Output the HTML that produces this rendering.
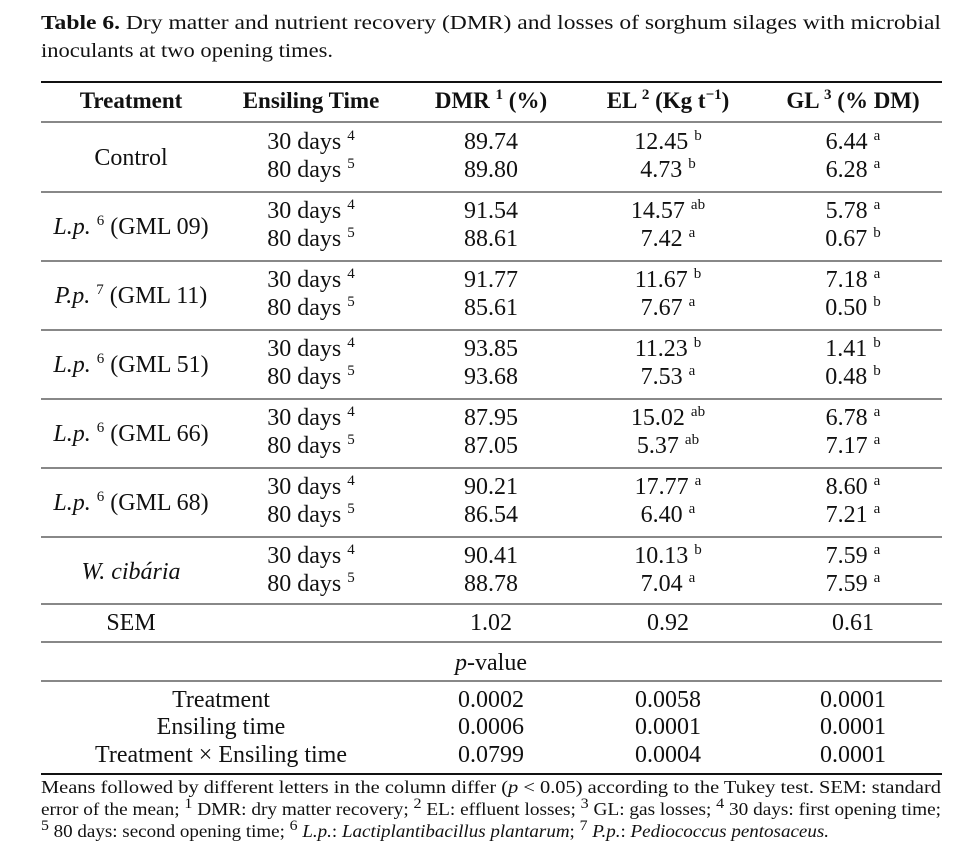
<!DOCTYPE html>
<html><head><meta charset="utf-8"><style>
html,body{margin:0;padding:0;background:#fff}
svg{display:block}
text{font-family:"Liberation Serif",serif;fill:#111}
.h{font-weight:bold;font-size:23px}
.c{font-size:24px}
.f{font-size:18px}
.s{font-size:15px}
</style></head><body>
<svg width="962" height="849" viewBox="0 0 962 849" xmlns="http://www.w3.org/2000/svg">
<text x="41" y="29" font-size="19.5" textLength="900" lengthAdjust="spacingAndGlyphs"><tspan font-weight="bold">Table 6.</tspan> Dry matter and nutrient recovery (DMR) and losses of sorghum silages with microbial</text>
<text x="41" y="57" font-size="19.5" textLength="292" lengthAdjust="spacingAndGlyphs">inoculants at two opening times.</text>
<g stroke="#111">
<line x1="41" x2="942" y1="82" y2="82" stroke-width="2"/>
<line x1="41" x2="942" y1="122" y2="122" stroke-width="1"/>
<line x1="41" x2="942" y1="192" y2="192"/>
<line x1="41" x2="942" y1="261" y2="261"/>
<line x1="41" x2="942" y1="330" y2="330"/>
<line x1="41" x2="942" y1="399" y2="399"/>
<line x1="41" x2="942" y1="468" y2="468"/>
<line x1="41" x2="942" y1="537" y2="537"/>
<line x1="41" x2="942" y1="604" y2="604"/>
<line x1="41" x2="942" y1="642" y2="642"/>
<line x1="41" x2="942" y1="681" y2="681"/>
<line x1="41" x2="942" y1="774" y2="774" stroke-width="2"/>
</g>
<g class="h" text-anchor="middle">
<text x="131" y="108" class="h">Treatment</text>
<text x="311" y="108" class="h">Ensiling Time</text>
<text x="491" y="108" class="h">DMR <tspan class="s" dy="-9">1</tspan><tspan dy="9"> (%)</tspan></text>
<text x="668" y="108" class="h">EL <tspan class="s" dy="-9">2</tspan><tspan dy="9"> (Kg t</tspan><tspan class="s" dy="-9">−1</tspan><tspan dy="9">)</tspan></text>
<text x="853" y="108" class="h">GL <tspan class="s" dy="-9">3</tspan><tspan dy="9"> (% DM)</tspan></text>
</g>
<g class="c" text-anchor="middle">
<text class="c" x="131" y="165">Control</text>
<text class="c" x="131" y="234"><tspan font-style="italic">L.p.</tspan> <tspan class="s" dy="-9">6</tspan><tspan dy="9"> (GML 09)</tspan></text>
<text class="c" x="131" y="303"><tspan font-style="italic">P.p.</tspan> <tspan class="s" dy="-9">7</tspan><tspan dy="9"> (GML 11)</tspan></text>
<text class="c" x="131" y="372"><tspan font-style="italic">L.p.</tspan> <tspan class="s" dy="-9">6</tspan><tspan dy="9"> (GML 51)</tspan></text>
<text class="c" x="131" y="441"><tspan font-style="italic">L.p.</tspan> <tspan class="s" dy="-9">6</tspan><tspan dy="9"> (GML 66)</tspan></text>
<text class="c" x="131" y="510"><tspan font-style="italic">L.p.</tspan> <tspan class="s" dy="-9">6</tspan><tspan dy="9"> (GML 68)</tspan></text>
<text class="c" x="131" y="579" font-style="italic">W. cibária</text>
</g>
<g text-anchor="middle" class="c">
<text class="c" x="311" y="149">30 days <tspan class="s" dy="-9">4</tspan></text>
<text class="c" x="311" y="177">80 days <tspan class="s" dy="-9">5</tspan></text>
<text class="c" x="311" y="218">30 days <tspan class="s" dy="-9">4</tspan></text>
<text class="c" x="311" y="246">80 days <tspan class="s" dy="-9">5</tspan></text>
<text class="c" x="311" y="287">30 days <tspan class="s" dy="-9">4</tspan></text>
<text class="c" x="311" y="315">80 days <tspan class="s" dy="-9">5</tspan></text>
<text class="c" x="311" y="356">30 days <tspan class="s" dy="-9">4</tspan></text>
<text class="c" x="311" y="384">80 days <tspan class="s" dy="-9">5</tspan></text>
<text class="c" x="311" y="425">30 days <tspan class="s" dy="-9">4</tspan></text>
<text class="c" x="311" y="453">80 days <tspan class="s" dy="-9">5</tspan></text>
<text class="c" x="311" y="494">30 days <tspan class="s" dy="-9">4</tspan></text>
<text class="c" x="311" y="522">80 days <tspan class="s" dy="-9">5</tspan></text>
<text class="c" x="311" y="563">30 days <tspan class="s" dy="-9">4</tspan></text>
<text class="c" x="311" y="591">80 days <tspan class="s" dy="-9">5</tspan></text>

<text class="c" x="491" y="149">89.74</text><text class="c" x="491" y="177">89.80</text>
<text class="c" x="491" y="218">91.54</text><text class="c" x="491" y="246">88.61</text>
<text class="c" x="491" y="287">91.77</text><text class="c" x="491" y="315">85.61</text>
<text class="c" x="491" y="356">93.85</text><text class="c" x="491" y="384">93.68</text>
<text class="c" x="491" y="425">87.95</text><text class="c" x="491" y="453">87.05</text>
<text class="c" x="491" y="494">90.21</text><text class="c" x="491" y="522">86.54</text>
<text class="c" x="491" y="563">90.41</text><text class="c" x="491" y="591">88.78</text>

<text class="c" x="668" y="149">12.45 <tspan class="s" dy="-9">b</tspan></text>
<text class="c" x="668" y="177">4.73 <tspan class="s" dy="-9">b</tspan></text>
<text class="c" x="668" y="218">14.57 <tspan class="s" dy="-9">ab</tspan></text>
<text class="c" x="668" y="246">7.42 <tspan class="s" dy="-9">a</tspan></text>
<text class="c" x="668" y="287">11.67 <tspan class="s" dy="-9">b</tspan></text>
<text class="c" x="668" y="315">7.67 <tspan class="s" dy="-9">a</tspan></text>
<text class="c" x="668" y="356">11.23 <tspan class="s" dy="-9">b</tspan></text>
<text class="c" x="668" y="384">7.53 <tspan class="s" dy="-9">a</tspan></text>
<text class="c" x="668" y="425">15.02 <tspan class="s" dy="-9">ab</tspan></text>
<text class="c" x="668" y="453">5.37 <tspan class="s" dy="-9">ab</tspan></text>
<text class="c" x="668" y="494">17.77 <tspan class="s" dy="-9">a</tspan></text>
<text class="c" x="668" y="522">6.40 <tspan class="s" dy="-9">a</tspan></text>
<text class="c" x="668" y="563">10.13 <tspan class="s" dy="-9">b</tspan></text>
<text class="c" x="668" y="591">7.04 <tspan class="s" dy="-9">a</tspan></text>

<text class="c" x="853" y="149">6.44 <tspan class="s" dy="-9">a</tspan></text>
<text class="c" x="853" y="177">6.28 <tspan class="s" dy="-9">a</tspan></text>
<text class="c" x="853" y="218">5.78 <tspan class="s" dy="-9">a</tspan></text>
<text class="c" x="853" y="246">0.67 <tspan class="s" dy="-9">b</tspan></text>
<text class="c" x="853" y="287">7.18 <tspan class="s" dy="-9">a</tspan></text>
<text class="c" x="853" y="315">0.50 <tspan class="s" dy="-9">b</tspan></text>
<text class="c" x="853" y="356">1.41 <tspan class="s" dy="-9">b</tspan></text>
<text class="c" x="853" y="384">0.48 <tspan class="s" dy="-9">b</tspan></text>
<text class="c" x="853" y="425">6.78 <tspan class="s" dy="-9">a</tspan></text>
<text class="c" x="853" y="453">7.17 <tspan class="s" dy="-9">a</tspan></text>
<text class="c" x="853" y="494">8.60 <tspan class="s" dy="-9">a</tspan></text>
<text class="c" x="853" y="522">7.21 <tspan class="s" dy="-9">a</tspan></text>
<text class="c" x="853" y="563">7.59 <tspan class="s" dy="-9">a</tspan></text>
<text class="c" x="853" y="591">7.59 <tspan class="s" dy="-9">a</tspan></text>

<text class="c" x="131" y="630">SEM</text>
<text class="c" x="491" y="630">1.02</text>
<text class="c" x="668" y="630">0.92</text>
<text class="c" x="853" y="630">0.61</text>
<text class="c" x="491" y="670"><tspan font-style="italic">p</tspan>-value</text>

<text class="c" x="221" y="707">Treatment</text>
<text class="c" x="221" y="734">Ensiling time</text>
<text class="c" x="221" y="762">Treatment × Ensiling time</text>
<text class="c" x="491" y="707">0.0002</text><text class="c" x="668" y="707">0.0058</text><text class="c" x="853" y="707">0.0001</text>
<text class="c" x="491" y="734">0.0006</text><text class="c" x="668" y="734">0.0001</text><text class="c" x="853" y="734">0.0001</text>
<text class="c" x="491" y="762">0.0799</text><text class="c" x="668" y="762">0.0004</text><text class="c" x="853" y="762">0.0001</text>
</g>
<text class="f" x="41" y="793" textLength="900" lengthAdjust="spacingAndGlyphs">Means followed by different letters in the column differ (<tspan font-style="italic">p</tspan> &lt; 0.05) according to the Tukey test. SEM: standard</text>
<text class="f" x="41" y="815" textLength="900" lengthAdjust="spacingAndGlyphs">error of the mean; <tspan class="s" dy="-7">1</tspan><tspan dy="7"> DMR: dry matter recovery; </tspan><tspan class="s" dy="-7">2</tspan><tspan dy="7"> EL: effluent losses; </tspan><tspan class="s" dy="-7">3</tspan><tspan dy="7"> GL: gas losses; </tspan><tspan class="s" dy="-7">4</tspan><tspan dy="7"> 30 days: first opening time;</tspan></text>
<text class="f" x="41" y="837" textLength="788" lengthAdjust="spacingAndGlyphs"><tspan class="s" dy="-7">5</tspan><tspan dy="7"> 80 days: second opening time; </tspan><tspan class="s" dy="-7">6</tspan><tspan dy="7" font-style="italic"> L.p.</tspan><tspan>: </tspan><tspan font-style="italic">Lactiplantibacillus plantarum</tspan><tspan>; </tspan><tspan class="s" dy="-7">7</tspan><tspan dy="7" font-style="italic"> P.p.</tspan><tspan>: </tspan><tspan font-style="italic">Pediococcus pentosaceus.</tspan></text>
</svg>
</body></html>
